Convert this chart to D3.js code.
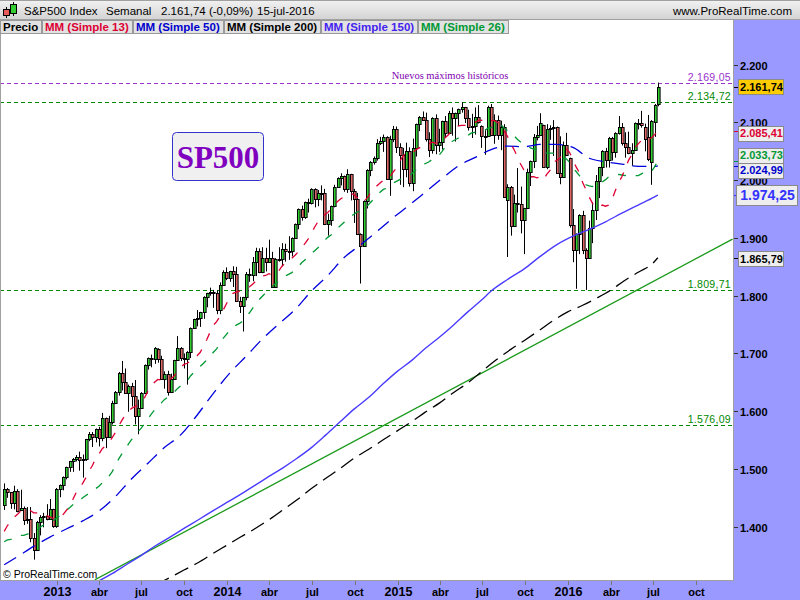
<!DOCTYPE html>
<html><head><meta charset="utf-8">
<script src="https://cdn.jsdelivr.net/npm/d3@7"></script>
<style>body{margin:0;background:#fff}svg{display:block}</style>
</head><body><svg id="c" width="800" height="600"></svg>
<script>
// ---------- DATA (weekly S&P500, week starting Monday) ----------
const firstWeek = "2012-09-10";
const opens = [
1438,1465,1460,1441,1461,1429,1433,1411,1414,1380,
1359,1409,1416,1418,1413,1430,1402,1466,1472,1486,
1503,1513,1518,1520,1516,1518,1551,1561,1556,1569,
1553,1588,1555,1582,1614,1633,1667,1650,1631,1643,
1626,1592,1606,1632,1680,1692,1691,1708,1691,1655,
1664,1633,1655,1688,1710,1692,1690,1703,1744,1759,
1762,1771,1798,1804,1806,1805,1775,1818,1841,1831,
1842,1838,1790,1783,1797,1838,1836,1859,1878,1841,
1866,1858,1865,1815,1864,1863,1881,1878,1878,1900,
1924,1950,1937,1962,1961,1985,1967,1978,1978,1925,
1931,1955,1988,2003,2007,1985,2010,1982,1967,1906,
1886,1964,2018,2032,2039,2064,2068,2075,2002,2071,
2088,2058,2044,2019,2051,1995,2055,2097,2110,2105,
2071,2053,2108,2061,2067,2102,2081,2117,2108,2116,
2123,2126,2107,2092,2094,2110,2094,2077,2077,2126,
2079,2104,2078,2092,1966,1989,1921,1961,1958,1931,
1951,2015,2033,2075,2079,2096,2023,2089,2090,2092,
2012,2006,2061,2038,1922,1880,1907,1940,1880,1865,
1918,1948,1999,2022,2050,2035,2073,2048,2081,2092,
2065,2058,2047,2053,2099,2099,2092,2075,2031,2101,
2132];
const highs = [
1475,1467,1460,1471,1465,1464,1435,1434,1434,1389,
1410,1420,1424,1439,1448,1431,1467,1473,1487,1504,
1514,1519,1524,1530,1525,1552,1564,1564,1570,1573,
1597,1589,1592,1618,1635,1668,1687,1674,1646,1649,
1654,1620,1633,1681,1693,1698,1711,1709,1696,1669,
1670,1665,1689,1730,1711,1700,1704,1745,1760,1775,
1772,1799,1805,1814,1810,1809,1823,1844,1849,1843,
1851,1850,1798,1798,1841,1847,1867,1883,1882,1884,
1883,1897,1876,1865,1884,1891,1890,1903,1901,1925,
1951,1956,1963,1968,1986,1986,1983,1991,1985,1942,
1956,1992,2005,2012,2008,2019,2011,1985,1978,1908,
1965,2019,2033,2041,2071,2075,2079,2076,2077,2094,
2093,2064,2056,2065,2057,2072,2098,2111,2119,2117,
2083,2109,2114,2089,2103,2111,2120,2126,2117,2124,
2135,2127,2122,2115,2126,2130,2095,2088,2129,2132,
2114,2112,2103,2097,1993,1990,1975,2021,1989,1952,
2020,2034,2080,2094,2116,2096,2097,2095,2104,2093,
2076,2067,2082,2039,1950,1908,1941,1947,1882,1930,
1962,2009,2023,2052,2056,2075,2075,2083,2111,2099,
2083,2084,2064,2100,2106,2120,2098,2113,2104,2132,
2169.05];
const lows = [
1429,1450,1431,1430,1425,1427,1403,1405,1373,1343,
1359,1385,1399,1411,1412,1398,1398,1451,1463,1482,
1495,1495,1513,1497,1485,1514,1548,1538,1546,1539,
1548,1536,1555,1577,1614,1627,1636,1630,1599,1608,
1577,1560,1605,1632,1672,1676,1682,1684,1654,1639,
1627,1633,1655,1687,1687,1674,1646,1692,1743,1747,
1746,1760,1780,1800,1779,1768,1768,1818,1827,1824,
1815,1789,1770,1738,1792,1824,1825,1834,1839,1839,
1842,1858,1814,1815,1859,1851,1859,1862,1868,1900,
1915,1930,1933,1944,1958,1953,1955,1965,1924,1904,
1921,1953,1987,1991,1980,1978,1965,1926,1905,1821,
1886,1951,2007,2027,2034,2061,2049,2001,1973,2066,
2047,1992,1988,2005,1989,1981,2041,2085,2103,2067,
2040,2046,2045,2049,2053,2074,2080,2077,2067,2094,
2117,2099,2086,2073,2079,2098,2056,2044,2077,2077,
2063,2070,2052,1970,1867,1904,1920,1944,1908,1872,
1950,1990,2021,2069,2077,2022,2019,2070,2042,2011,
1993,2005,2043,1918,1858,1812,1872,1872,1810,1864,
1891,1931,1969,2007,2022,2022,2034,2039,2079,2060,
2039,2045,2025,2052,2088,2091,2050,2033,1992,2075,
2128];
const closes = [
1466,1460,1441,1461,1428,1433,1412,1414,1380,1359,
1409,1416,1418,1413,1430,1402,1466,1472,1486,1503,
1513,1518,1520,1516,1518,1551,1561,1556,1569,1553,
1588,1555,1582,1614,1633,1667,1650,1631,1643,1626,
1592,1606,1632,1680,1692,1691,1710,1691,1655,1664,
1633,1655,1688,1710,1692,1690,1703,1744,1759,1762,
1771,1798,1804,1806,1805,1775,1818,1841,1831,1842,
1838,1790,1783,1797,1838,1836,1859,1878,1841,1866,
1858,1865,1815,1864,1863,1881,1878,1878,1900,1924,
1950,1937,1962,1961,1985,1967,1978,1978,1925,1931,
1955,1988,2003,2007,1985,2010,1982,1967,1906,1886,
1964,2018,2032,2039,2064,2068,2075,2002,2071,2088,
2058,2044,2019,2051,1995,2055,2097,2110,2105,2071,
2053,2108,2061,2067,2102,2081,2117,2108,2116,2123,
2126,2107,2092,2094,2110,2101,2077,2077,2126,2079,
2104,2078,2092,1971,1989,1921,1961,1958,1931,1951,
2015,2033,2075,2079,2099,2023,2089,2090,2092,2012,
2006,2061,2044,1922,1880,1907,1940,1880,1865,1918,
1948,1999,2022,2050,2035,2073,2048,2081,2092,2065,
2058,2047,2053,2099,2099,2096,2071,2037,2103,2130,
2161.74];
// Moving averages read per week (same indexing as candles)
const ma13 = [
1392,1402,1408,1416,1421,1427,1429,1430,1428,1424,
1424,1424,1423,1419,1417,1414,1414,1417,1421,1428,
1436,1447,1459,1467,1475,1485,1497,1506,1519,1526,
1535,1540,1546,1554,1563,1574,1584,1593,1600,1605,
1608,1611,1617,1624,1635,1643,1650,1655,1654,1655,
1655,1656,1661,1670,1676,1681,1683,1687,1692,1696,
1702,1713,1724,1737,1749,1755,1764,1775,1786,1797,
1804,1806,1808,1810,1813,1815,1820,1825,1830,1834,
1835,1838,1836,1838,1843,1851,1857,1860,1865,1870,
1876,1883,1890,1898,1908,1919,1928,1937,1940,1944,
1950,1957,1963,1968,1971,1975,1977,1975,1970,1963,
1962,1969,1977,1984,1990,1995,2000,2001,2006,2014,
2021,2032,2042,2048,2047,2048,2053,2056,2059,2059,
2063,2066,2064,2064,2069,2074,2079,2087,2092,2094,
2095,2095,2097,2100,2100,2103,2104,2102,2106,2103,
2103,2100,2097,2085,2076,2063,2053,2041,2028,2018,
2014,2006,2006,2004,2006,2001,2010,2017,2031,2034,
2038,2048,2055,2048,2036,2023,2013,1996,1984,1971,
1960,1953,1953,1957,1955,1957,1967,1982,1996,2006,
2020,2034,2044,2056,2063,2069,2071,2071,2073,2079,
2085.41];
const ma26 = [
1374,1377,1378,1380,1383,1385,1385,1387,1388,1390,
1394,1399,1403,1405,1409,1411,1415,1419,1424,1428,
1433,1438,1441,1445,1450,1454,1458,1461,1466,1470,
1476,1481,1487,1495,1505,1517,1526,1534,1543,1551,
1557,1565,1571,1579,1587,1595,1602,1609,1614,1620,
1624,1628,1633,1639,1644,1649,1653,1661,1667,1673,
1678,1683,1689,1696,1702,1708,1717,1726,1733,1740,
1745,1749,1752,1756,1763,1770,1778,1787,1793,1799,
1805,1812,1816,1821,1825,1829,1834,1837,1840,1845,
1850,1857,1862,1867,1873,1878,1883,1890,1896,1901,
1905,1911,1917,1922,1927,1933,1937,1941,1945,1946,
1950,1955,1961,1967,1973,1979,1984,1986,1990,1995,
1998,2001,2003,2005,2008,2013,2018,2023,2027,2029,
2032,2036,2039,2043,2050,2058,2064,2067,2070,2073,
2076,2077,2078,2082,2083,2084,2084,2086,2090,2091,
2095,2096,2096,2090,2086,2080,2077,2071,2066,2061,
2058,2056,2054,2053,2053,2049,2047,2047,2047,2044,
2040,2038,2037,2031,2021,2015,2008,2001,1992,1990,
1989,1992,1994,1997,2001,2006,2007,2009,2010,2009,
2008,2009,2007,2008,2008,2011,2014,2013,2015,2023,
2033.73];
const ma50Weeks = [0,4,9,14,19,24,29,34,39,44,49,54,59,64,69,74,79,84,89,94,99,104,109,114,119,124,129,134,139,144,149,154,159,164,169,174,179,184,189,194,199,200];
const ma50 = [1334,1348,1366,1382,1396,1410,1427,1452,1483,1510,1537,1559,1593,1631,1666,1695,1725,1751,1776,1808,1835,1866,1888,1911,1935,1957,1980,2003,2025,2039,2053,2059,2058,2062,2062,2057,2038,2032,2028,2024,2024,2024.99];
const ma150Dates = ["2013-02-28","2013-03-31","2013-04-30","2013-05-31","2013-06-30","2013-07-31","2013-08-31","2013-09-30","2013-10-31","2013-11-30","2013-12-31",
"2014-01-31","2014-02-28","2014-03-31","2014-04-30","2014-05-31","2014-06-30","2014-07-31","2014-08-31","2014-09-30","2014-10-31","2014-11-30","2014-12-31",
"2015-01-31","2015-02-28","2015-03-31","2015-04-30","2015-05-31","2015-06-30","2015-07-20","2015-08-24","2015-09-28","2015-11-02","2015-12-07",
"2016-01-11","2016-02-15","2016-03-21","2016-04-25","2016-05-30","2016-07-04","2016-07-11"];
const ma150 = [1296,1306,1319,1335,1350,1367,1382,1397,1412,1427,1442,
1457,1471,1487,1502,1519,1537,1559,1582,1604,1624,1647,1669,
1688,1708,1728,1749,1772,1793,1808,1828,1846,1868,1888,
1903,1915,1928,1943,1957,1971,1974.25];
const ma200Dates = ["2013-07-31","2013-08-31","2013-09-30","2013-10-31","2013-11-30","2013-12-31",
"2014-01-31","2014-02-28","2014-03-31","2014-04-30","2014-05-31","2014-06-30","2014-07-31","2014-08-31","2014-09-30","2014-10-31","2014-11-30","2014-12-31",
"2015-01-31","2015-02-28","2015-03-31","2015-04-30","2015-05-31","2015-06-30","2015-07-31","2015-08-31","2015-09-30","2015-10-31","2015-11-30","2015-12-31",
"2016-01-31","2016-02-29","2016-03-31","2016-04-30","2016-05-31","2016-06-30","2016-07-11"];
const ma200 = [1299,1312,1325,1338,1353,1368,
1383,1396,1412,1429,1447,1466,1484,1501,1519,1534,1550,1566,
1582,1598,1614,1632,1649,1669,1689,1707,1723,1740,1757,1772,
1783,1795,1809,1826,1841,1856,1865.79];
const trendDates = ["2013-03-23","2016-12-18"];
const trendValues = [1308,1898];
const levelValues = [2169.05,2134.72,1809.71,1576.09];
const yTicks = [2200,2100,2000,1900,1800,1700,1600,1500,1400];
const xTickDates = ["2013-01-01","2013-04-01","2013-07-01","2013-10-01","2014-01-01","2014-04-01","2014-07-01","2014-10-01",
"2015-01-01","2015-04-01","2015-07-01","2015-10-01","2016-01-01","2016-04-01","2016-07-01","2016-10-01"];
const xTickLabels = ["2013","abr","jul","oct","2014","abr","jul","oct","2015","abr","jul","oct","2016","abr","jul","oct"];
const legendLabels = ["Precio","MM (Simple 13)","MM (Simple 50)","MM (Simple 200)","MM (Simple 150)","MM (Simple 26)"];

// ---------- STYLE ----------
const SANS="'Liberation Sans',Arial,sans-serif", SERIF="'Liberation Serif','Times New Roman',serif";
const C13="#dd0033", C26="#009933", C50="#0000dd", C150="#4a3cff", C200="#000000";
const legendColors = ["#000",C13,"#0000cc","#000","#4422ee",C26];
const UP="#33cc33", DOWN="#e06666", PANEL="#9999ff";

const svg=d3.select("#c").style("font-family",SANS);
const parse=d3.timeParse("%Y-%m-%d");
const loc=d3.formatLocale({decimal:",",thousands:".",grouping:[3],currency:["",""]});
const f2=loc.format(",.2f"), f0=loc.format(",d");

const PL=0, PR=733, PT=34, PB=580;
const x=d3.scaleTime().domain([parse("2012-09-01"),parse("2016-12-19")]).range([PL,PR]);
const y=d3.scaleLinear().domain([1400,2200]).range([526.7,64.7]);
const start=parse(firstWeek);
const dates=closes.map((_,i)=>d3.timeDay.offset(start,7*i));

// backgrounds
svg.append("rect").attr("width",800).attr("height",600).attr("fill","#fff");
const defs=svg.append("defs");
const g=defs.append("linearGradient").attr("id","hdr").attr("x1",0).attr("x2",0).attr("y1",0).attr("y2",1);
g.append("stop").attr("offset","0%").attr("stop-color","#f2f2f2");
g.append("stop").attr("offset","100%").attr("stop-color","#d2d2d2");
defs.append("clipPath").attr("id","clip").append("rect").attr("x",1).attr("y",PT).attr("width",PR-1).attr("height",PB-PT);

svg.append("rect").attr("x",0).attr("y",0).attr("width",800).attr("height",20).attr("fill","url(#hdr)");
svg.append("line").attr("x1",0).attr("x2",800).attr("y1",0.5).attr("y2",0.5).attr("stroke","#a0a0a0");
svg.append("line").attr("x1",0).attr("x2",800).attr("y1",19.5).attr("y2",19.5).attr("stroke","#a0a0a0");
svg.append("rect").attr("x",PR+1).attr("y",20).attr("width",800-PR-1).attr("height",580).attr("fill",PANEL);
svg.append("rect").attr("x",0).attr("y",PB+1).attr("width",800).attr("height",600-PB-1).attr("fill",PANEL);
svg.append("line").attr("x1",PR+0.5).attr("x2",PR+0.5).attr("y1",20).attr("y2",PB+1).attr("stroke","#a0a0a0");
svg.append("line").attr("x1",0).attr("x2",PR+1).attr("y1",PB+0.5).attr("y2",PB+0.5).attr("stroke","#a0a0a0");
svg.append("line").attr("x1",0.5).attr("x2",0.5).attr("y1",20).attr("y2",PB).attr("stroke","#a0a0a0");

// header icon
const ic=svg.append("g");
ic.append("line").attr("x1",6.5).attr("x2",6.5).attr("y1",7).attr("y2",18).attr("stroke","#000");
ic.append("rect").attr("x",3.5).attr("y",9.5).attr("width",6).attr("height",6).attr("fill","#e85a5a").attr("stroke","#000");
ic.append("line").attr("x1",13.5).attr("x2",13.5).attr("y1",2).attr("y2",16).attr("stroke","#000");
ic.append("rect").attr("x",10.5).attr("y",4.5).attr("width",6).attr("height",9).attr("fill","#33cc33").attr("stroke","#000");
// header texts
const hdrTexts=[["S&P500 Index",24],["Semanal",106],[f2(closes[closes.length-1])+" (-0,09%)",161],["15-jul-2016",257]];
hdrTexts.forEach(([t,xx])=>svg.append("text").attr("x",xx).attr("y",15).attr("font-size","11.5px").attr("fill","#000").text(t));
svg.append("text").attr("x",792).attr("y",15).attr("text-anchor","end").attr("font-size","11.5px").attr("fill","#000").text("www.ProRealTime.com");

// legend row
let lx=0;
legendLabels.forEach((t,i)=>{
  const gg=svg.append("g");
  const r=gg.append("rect").attr("y",20.5).attr("height",13).attr("fill","#e2e2e2").attr("stroke","#999");
  const tx=gg.append("text").attr("x",lx+3).attr("y",31).attr("font-size","11.5px").attr("font-weight","bold").attr("fill",legendColors[i]).text(t);
  const w=Math.round(tx.node().getComputedTextLength())+6;
  r.attr("x",lx+0.5).attr("width",w);
  lx+=w+1;
});

// plot layer
const P=svg.append("g").attr("clip-path","url(#clip)");

// horizontal levels
const levelColors=["#9933cc","#008800","#008800","#008800"];
levelValues.forEach((v,i)=>{
  const yy=Math.round(y(v))+0.5;
  P.append("line").attr("x1",0).attr("x2",PR).attr("y1",yy).attr("y2",yy).attr("stroke",levelColors[i]).attr("stroke-dasharray","4,3");
  svg.append("text").attr("x",731).attr("y",yy-3).attr("text-anchor","end").attr("font-size","10.5px").attr("fill",levelColors[i]).attr("letter-spacing","0.3px").text(f2(v));
});
svg.append("text").attr("x",450).attr("y",79).attr("text-anchor","middle").style("font-family",SERIF).attr("font-size","10.5px").attr("fill","#8000b0").text("Nuevos máximos históricos");

// trendline
P.append("path").datum(trendDates.map((d,i)=>({d:parse(d),v:trendValues[i]})))
 .attr("d",d3.line().x(d=>x(d.d)).y(d=>y(d.v))).attr("fill","none").attr("stroke","#1a9a1a").attr("stroke-width",1.3);

// candles
const cg=P.append("g");
closes.forEach((c,i)=>{
  const cx=Math.round(x(dates[i]));
  const o=opens[i];
  cg.append("line").attr("x1",cx+0.5).attr("x2",cx+0.5).attr("y1",y(highs[i])).attr("y2",y(lows[i])).attr("stroke","#000");
  const yt=Math.round(y(Math.max(o,c))), yb=Math.round(y(Math.min(o,c)));
  cg.append("rect").attr("x",cx-1+0.5).attr("y",yt+0.5).attr("width",2.6).attr("height",Math.max(1,yb-yt))
    .attr("fill",c>=o?UP:DOWN).attr("stroke","#000").attr("stroke-width",1);
});

// moving averages
const lineW=d3.line().x(d=>x(d.d)).y(d=>y(d.v));
const lineS=d3.line().x(d=>x(d.d)).y(d=>y(d.v)).curve(d3.curveMonotoneX);
function drawMA(data,gen,col,dash,w){
  P.append("path").datum(data).attr("d",gen).attr("fill","none").attr("stroke",col).attr("stroke-width",w).attr("stroke-dasharray",dash);
}
drawMA(ma200Dates.map((d,i)=>({d:parse(d),v:ma200[i]})),lineS,C200,"15,7",1.3);
drawMA(ma150Dates.map((d,i)=>({d:parse(d),v:ma150[i]})),lineS,C150,null,1.4);
drawMA(ma50Weeks.map((w,i)=>({d:dates[w],v:ma50[i]})),lineS,C50,"14,8",1.3);
drawMA(ma26.map((v,i)=>({d:dates[i],v})),lineW,C26,"8,10",1.3);
drawMA(ma13.map((v,i)=>({d:dates[i],v})),lineW,C13,"8,10",1.3);

// SP500 box
svg.append("rect").attr("x",172.5).attr("y",132.5).attr("width",91).attr("height",48).attr("rx",4).attr("fill","#f0f0f0").attr("stroke","#3333cc");
svg.append("text").attr("x",218).attr("y",168).attr("text-anchor","middle").style("font-family",SERIF)
  .attr("font-weight","bold").attr("font-size","31px").attr("fill","#8000c0").text("SP500");

// copyright
svg.append("text").attr("x",3).attr("y",578).attr("font-size","10.5px").attr("fill","#000").text("© ProRealTime.com");

// right axis
yTicks.forEach(v=>{
  const yy=Math.round(y(v))+0.5;
  svg.append("line").attr("x1",PR+1).attr("x2",PR+5).attr("y1",yy).attr("y2",yy).attr("stroke","#333");
  svg.append("text").attr("x",740).attr("y",yy+4).attr("font-size","11px").attr("font-weight","bold").attr("fill","#000").text(f0(v));
});
// value boxes
function valBox(v,yc,col,bg,big){
  const yy=Math.round(y(v))+0.5;
  svg.append("line").attr("x1",PR+1).attr("x2",PR+5).attr("y1",yy).attr("y2",yy).attr("stroke",col);
  const h=big?20:15, w=big?61:45, x0=big?736:738;
  svg.append("rect").attr("x",x0+0.5).attr("y",Math.round(yc-h/2)+0.5).attr("width",w).attr("height",h).attr("fill",bg).attr("stroke","#8a8a8a");
  svg.append("text").attr("x",x0+w/2+1).attr("y",yc+(big?5:4)).attr("text-anchor","middle").attr("font-size",big?"14px":"11px")
    .attr("font-weight","bold").attr("fill",col).text(f2(v));
}
const n=closes.length-1;
valBox(closes[n],86.5,"#000","#ffcc00",false);
valBox(ma13[n],133,C13,"#eeeeee",false);
valBox(ma26[n],155,C26,"#eeeeee",false);
valBox(ma50[ma50.length-1],170,"#0000cc","#eeeeee",false);
valBox(ma150[ma150.length-1],195,"#3333ff","#eeeeee",true);
valBox(ma200[ma200.length-1],258.5,"#000","#eeeeee",false);

// bottom axis
xTickDates.forEach((d,i)=>{
  const xx=Math.round(x(parse(d)))+0.5;
  svg.append("line").attr("x1",xx).attr("x2",xx).attr("y1",PB+1).attr("y2",PB+5).attr("stroke","#777");
  const yr=/^\d{4}$/.test(xTickLabels[i]);
  svg.append("text").attr("x",xx).attr("y",596).attr("text-anchor","middle").attr("font-weight","bold")
    .attr("font-size",yr?"12.5px":"11px").attr("fill","#000").text(xTickLabels[i]);
});
</script></body></html>
